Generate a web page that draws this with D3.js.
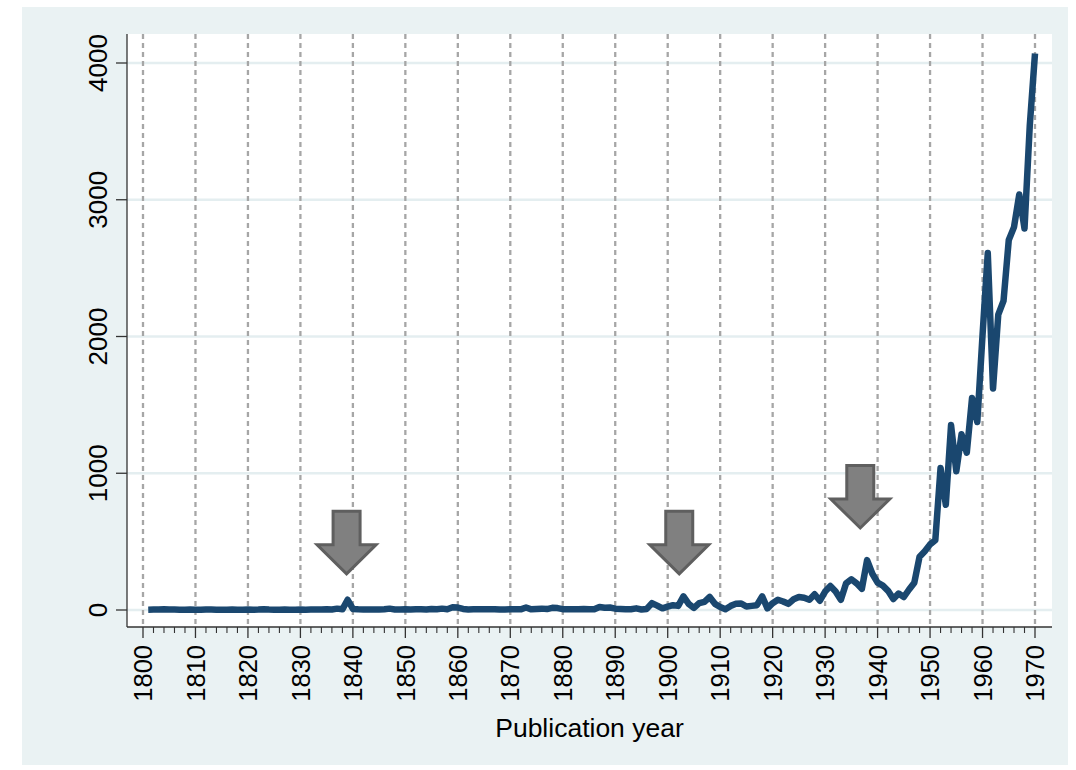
<!DOCTYPE html>
<head>
    <meta charset="utf-8">
    <script src="https://d3js.org/d3.v7.min.js"></script>
    <style>
        *{
            margin:0;
            padding:0;
        }
        body{
            background: #fff;
            font-family: 'Liberation Sans', Arial, sans-serif;
        }
        text{
            fill: #000;
        }
    </style>
</head>

<body>
<svg id="viz"></svg>

<script>

    //publication counts per year
    let years = d3.range(1801, 1971);
    let counts = [
        2, 3, 3, 5, 4, 3, 2, 2, 3, 2,              //1801-1810
        2, 4, 3, 2, 2, 2, 3, 2, 2, 3,              //1811-1820
        2, 3, 6, 3, 2, 2, 3, 2, 2, 3,              //1821-1830
        2, 3, 4, 3, 6, 4, 10, 5, 75, 8,            //1831-1840
        5, 4, 3, 4, 3, 5, 10, 4, 3, 5,             //1841-1850
        4, 6, 5, 3, 8, 5, 10, 6, 20, 18,           //1851-1860
        8, 4, 5, 6, 5, 5, 6, 3, 4, 5,              //1861-1870
        6, 5, 18, 5, 8, 10, 7, 16, 14, 6,          //1871-1880
        5, 5, 6, 8, 6, 5, 22, 16, 18, 10,          //1881-1890
        8, 5, 6, 12, 4, 8, 50, 32, 12, 25,         //1891-1900
        35, 30, 100, 45, 15, 50, 60, 95, 45, 22,   //1901-1910
        6, 30, 45, 48, 25, 30, 35, 100, 12, 50,    //1911-1920
        75, 62, 45, 78, 95, 90, 75, 115, 68, 135,  //1921-1930
        175, 135, 75, 195, 225, 195, 155, 365, 265, 200,        //1931-1940
        178, 140, 80, 120, 95, 150, 200, 390, 430, 480,         //1941-1950
        510, 1038, 770, 1352, 1015, 1285, 1150, 1550, 1375, 2010,   //1951-1960
        2610, 1620, 2160, 2260, 2705, 2800, 3038, 2790, 3540, 4070  //1961-1970
    ];

    //axis ticks
    let yTicks = [0, 1000, 2000, 3000, 4000];
    let xTicks = [1800, 1810, 1820, 1830, 1840, 1850, 1860, 1870, 1880,
                  1890, 1900, 1910, 1920, 1930, 1940, 1950, 1960, 1970];
    let xMinor = d3.range(1800, 1971, 2).filter(d => d % 10 != 0);

    //arrow annotations (year, value at the arrow tip)
    let arrowYears = [1838.8, 1902.2, 1936.7];
    let arrowTips = [250, 250, 585];

    let xTitle = "Publication year";


    //svg
    let W = 1076, H = 770;
    let svg = d3.select("#viz")
        .attr("width", W)
        .attr("height", H);

    //plot region edges
    let pLeft = 127, pRight = 1052, pTop = 34, pBottom = 627;

    let x = d3.scaleLinear().domain([1800, 1970]).range([143, 1035]);
    let y = d3.scaleLinear().domain([0, 4000]).range([610, 63]);


    //outer background
    svg.append("rect")
        .attr("x", 22).attr("y", 7)
        .attr("width", 1046).attr("height", 758)
        .attr("fill", "#eaf2f3");

    //plot region
    svg.append("rect")
        .attr("x", pLeft).attr("y", pTop)
        .attr("width", pRight - pLeft).attr("height", pBottom - pTop)
        .attr("fill", "#fff");


    //horizontal grid
    svg.append("g")
        .selectAll("line")
        .data(yTicks)
        .enter()
        .append("line")
        .attr("x1", pLeft).attr("x2", pRight)
        .attr("y1", d => y(d)).attr("y2", d => y(d))
        .attr("stroke", "#e4eef0")
        .attr("stroke-width", 2.5);

    //vertical dashed grid
    svg.append("g")
        .selectAll("line")
        .data(xTicks)
        .enter()
        .append("line")
        .attr("x1", d => x(d)).attr("x2", d => x(d))
        .attr("y1", pTop).attr("y2", pBottom)
        .attr("stroke", "#a6a6a6")
        .attr("stroke-width", 2.3)
        .attr("stroke-dasharray", "5,4");


    //arrows
    let arrowShape = [[-13.5, -64.5], [13.5, -64.5], [13.5, -31], [29.5, -31],
                      [0, -2], [-29.5, -31], [-13.5, -31]];
    svg.append("g")
        .selectAll("path")
        .data(arrowYears)
        .enter()
        .append("path")
        .attr("transform", (d, i) => `translate(${x(d)},${y(arrowTips[i])})`)
        .attr("d", d3.line()(arrowShape) + "Z")
        .attr("fill", "#808080")
        .attr("stroke", "#5f5f5f")
        .attr("stroke-width", 3)
        .attr("stroke-linejoin", "miter");


    //data line
    let line = d3.line()
        .x((d, i) => x(years[i]))
        .y(d => y(d));

    svg.append("path")
        .datum(counts)
        .attr("d", line)
        .attr("fill", "none")
        .attr("stroke", "#1a476f")
        .attr("stroke-width", 6.5)
        .attr("stroke-linejoin", "round");


    //y axis
    let yAxis = svg.append("g");
    yAxis.append("line")
        .attr("x1", pLeft).attr("x2", pLeft)
        .attr("y1", pTop).attr("y2", pBottom)
        .attr("stroke", "#333")
        .attr("stroke-width", 1.3);
    yAxis.selectAll("line.tick")
        .data(yTicks)
        .enter()
        .append("line")
        .attr("class", "tick")
        .attr("x1", pLeft - 11).attr("x2", pLeft)
        .attr("y1", d => y(d)).attr("y2", d => y(d))
        .attr("stroke", "#333")
        .attr("stroke-width", 1.3);
    yAxis.selectAll("text")
        .data(yTicks)
        .enter()
        .append("text")
        .attr("transform", d => `translate(107,${y(d)}) rotate(-90)`)
        .attr("text-anchor", "middle")
        .attr("font-size", 26)
        .text(d => d);


    //x axis
    let xAxis = svg.append("g");
    xAxis.append("line")
        .attr("x1", pLeft).attr("x2", pRight)
        .attr("y1", pBottom).attr("y2", pBottom)
        .attr("stroke", "#333")
        .attr("stroke-width", 1.3);
    xAxis.selectAll("line.major")
        .data(xTicks)
        .enter()
        .append("line")
        .attr("class", "major")
        .attr("x1", d => x(d)).attr("x2", d => x(d))
        .attr("y1", pBottom).attr("y2", pBottom + 11)
        .attr("stroke", "#333")
        .attr("stroke-width", 1.3);
    xAxis.selectAll("line.minor")
        .data(xMinor)
        .enter()
        .append("line")
        .attr("class", "minor")
        .attr("x1", d => x(d)).attr("x2", d => x(d))
        .attr("y1", pBottom).attr("y2", pBottom + 6)
        .attr("stroke", "#333")
        .attr("stroke-width", 1.1);
    xAxis.selectAll("text")
        .data(xTicks)
        .enter()
        .append("text")
        .attr("transform", d => `translate(${x(d)},645) rotate(-90)`)
        .attr("text-anchor", "end")
        .attr("dy", "0.36em")
        .attr("font-size", 25.5)
        .text(d => d);

    //axis title
    svg.append("text")
        .attr("x", (pLeft + pRight) / 2)
        .attr("y", 737)
        .attr("text-anchor", "middle")
        .attr("font-size", 26.5)
        .text(xTitle);

</script>
</body>
